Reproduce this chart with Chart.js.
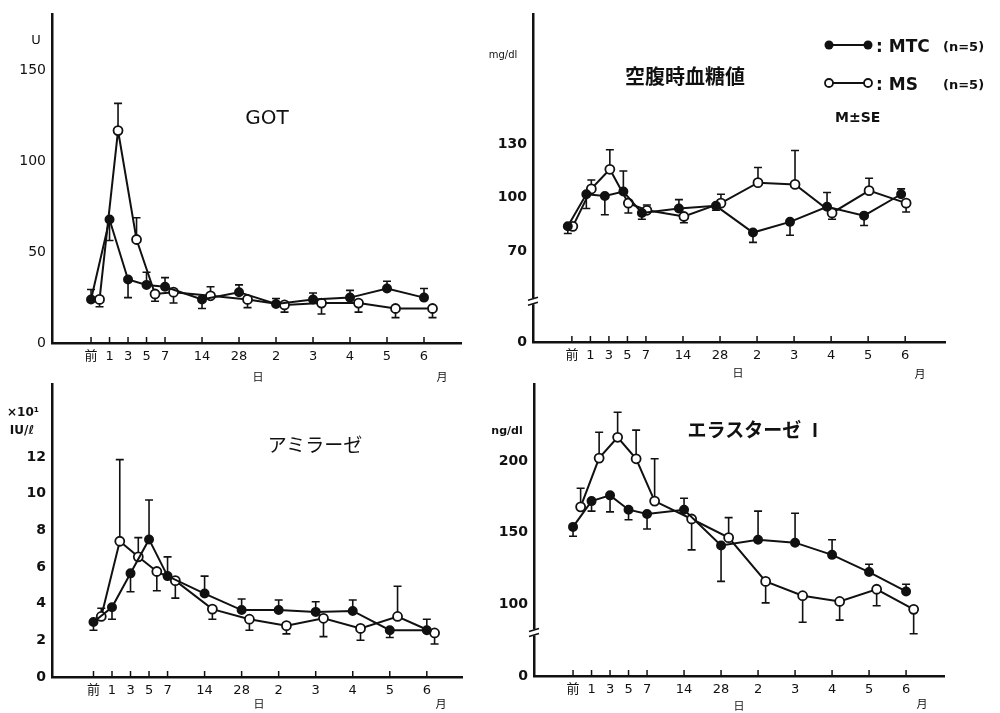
<!DOCTYPE html>
<html>
<head>
<meta charset="utf-8">
<script src="https://cdn.jsdelivr.net/npm/chart.js@4.4.0/dist/chart.umd.min.js"></script>
<style>
  body { margin: 0; background: #fff; width: 1000px; height: 713px; position: relative; overflow: hidden; color: #111; }
  .box { position: absolute; }
  .lbl { position: absolute; white-space: nowrap; line-height: 1; transform: translate(-50%, -50%); }
  .jp { font-family: "Noto Sans CJK JP", sans-serif; }
  .lat { font-family: "DejaVu Sans", sans-serif; }
</style>
</head>
<body>
<div class="box" style="left:0;top:0;width:470px;height:385px"><canvas id="got"></canvas></div>
<div class="box" style="left:470px;top:0;width:530px;height:385px"><canvas id="glu"></canvas></div>
<div class="box" style="left:0;top:370px;width:470px;height:343px"><canvas id="amy"></canvas></div>
<div class="box" style="left:470px;top:370px;width:530px;height:343px"><canvas id="ela"></canvas></div>

<!-- titles and units -->
<div class="lbl lat" style="left:267px;top:117px;font-size:20px">GOT</div>
<div class="lbl lat" style="left:36px;top:39px;font-size:13px">U</div>
<div class="lbl jp" style="left:685px;top:76px;font-size:20px;font-weight:700">空腹時血糖値</div>
<div class="lbl lat" style="left:503px;top:55px;font-size:10px">mg/dl</div>
<div class="lbl jp" style="left:315px;top:443px;font-size:19px">アミラーゼ</div>
<div class="lbl lat" style="left:23px;top:412px;font-size:12px;font-weight:700">×10¹</div>
<div class="lbl lat" style="left:22px;top:430px;font-size:12px;font-weight:700">IU/ℓ</div>
<div class="lbl jp" style="left:756px;top:428px;font-size:19px;font-weight:700">エラスターゼ Ⅰ</div>
<div class="lbl lat" style="left:507px;top:430px;font-size:11px;font-weight:700">ng/dl</div>

<!-- day / month markers -->
<div class="lbl jp" style="left:258px;top:376px;font-size:11px">日</div>
<div class="lbl jp" style="left:442px;top:376px;font-size:11px">月</div>
<div class="lbl jp" style="left:738px;top:372px;font-size:11px">日</div>
<div class="lbl jp" style="left:920px;top:373px;font-size:11px">月</div>
<div class="lbl jp" style="left:259px;top:703px;font-size:11px">日</div>
<div class="lbl jp" style="left:441px;top:703px;font-size:11px">月</div>
<div class="lbl jp" style="left:739px;top:705px;font-size:11px">日</div>
<div class="lbl jp" style="left:922px;top:703px;font-size:11px">月</div>

<!-- legend -->
<svg style="position:absolute;left:820px;top:35px" width="60" height="60">
  <line x1="9" y1="10" x2="48" y2="10" stroke="#111" stroke-width="2"/>
  <circle cx="9" cy="10" r="4.5" fill="#111"/>
  <circle cx="48" cy="10" r="4.5" fill="#111"/>
  <line x1="9" y1="48" x2="48" y2="48" stroke="#111" stroke-width="2"/>
  <circle cx="9" cy="48" r="4" fill="#fff" stroke="#111" stroke-width="1.8"/>
  <circle cx="48" cy="48" r="4" fill="#fff" stroke="#111" stroke-width="1.8"/>
</svg>
<div class="lat" style="position:absolute;left:876px;top:36px;font-size:17px;font-weight:700">: MTC</div>
<div class="lat" style="position:absolute;left:943px;top:39px;font-size:13px;font-weight:700">(n=5)</div>
<div class="lat" style="position:absolute;left:876px;top:74px;font-size:17px;font-weight:700">: MS</div>
<div class="lat" style="position:absolute;left:943px;top:77px;font-size:13px;font-weight:700">(n=5)</div>
<div class="lat" style="position:absolute;left:835px;top:109px;font-size:14px;font-weight:700">M±SE</div>

<script>
// time points: before, days 1..28, then months 2..6
const days = ["前", "1", "3", "5", "7", "14", "28", "2", "3", "4", "5", "6"];
const dayPos = [0, 1, 2, 3, 4, 6, 8, 10, 12, 14, 16, 18];

// GOT (U)
const gotMTC    = [24, 68, 35, 32, 31, 24, 28, 21.5, 24, 25, 30, 25];
const gotMTCbar = [29.5, 56.5, 25, 39, 36, 19, 32, 24.5, 27.5, 29, 34, 30];
const gotMS     = [24, 117, 57, 27, 28, 26, 24, 21, 22, 22, 19, 19];
const gotMSbar  = [20, 132, 69, 23, 22, 31, 19.5, 17, 16, 17, 14, 14];

// fasting blood glucose (mg/dl)
const gluMTC    = [84, 102, 101, 103.5, 91.5, 94, 95.5, 80.5, 86.5, 95, 90, 102];
const gluMTCbar = [80, 94, 90.5, 115, 88, 99, 93, 75, 79, 103, 84.5, 105];
const gluMS     = [84, 105, 116, 97, 93, 89.5, 97, 108.5, 107.5, 91.5, 104, 97];
const gluMSbar  = [null, 110, 127, 91.5, 96, 86, 102, 117, 126.5, 88, 111, 92];

// amylase (x10 IU/l)
const amyMTC    = [3.0, 3.8, 5.65, 7.5, 5.5, 4.55, 3.65, 3.65, 3.55, 3.6, 2.55, 2.55];
const amyMTCbar = [2.55, 3.15, 4.65, 9.65, 6.55, 5.5, 4.25, 4.2, 4.1, 4.2, 2.15, 3.15];
const amyMS     = [3.3, 7.4, 6.55, 5.75, 5.25, 3.7, 3.15, 2.8, 3.2, 2.65, 3.3, 2.4];
const amyMSbar  = [3.75, 11.85, 7.6, 4.7, 4.3, 3.15, 2.55, 2.35, 2.2, 2.0, 4.95, 1.8];

// elastase I (ng/dl)
const elaMTC    = [154, 172, 176, 166, 163, 166, 141, 145, 143, 134.5, 122.5, 109];
const elaMTCbar = [147.5, 165, 164.5, 159, 152.5, 174, 116, 165, 163.5, 145, 128, 114];
const elaMS     = [168, 202, 216.5, 201.5, 172, 159.5, 146.5, 116, 106, 102, 110.5, 96.5];
const elaMSbar  = [181, 220, 234, 221.5, 201.5, 138, 160.5, 101, 87.5, 89, 99, 79.5];

const INK = "#111";

const pts = (vals, off) => vals.map((v, i) => ({ x: dayPos[i] + off, y: v }));

// vertical SE bars with a cap at the end
const errBars = {
  id: "errBars",
  beforeDatasetsDraw(chart) {
    const { ctx, scales: { y } } = chart;
    ctx.save();
    ctx.strokeStyle = INK;
    ctx.lineWidth = 1.6;
    chart.data.datasets.forEach((ds, di) => {
      const meta = chart.getDatasetMeta(di);
      (ds.bars || []).forEach((b, i) => {
        if (b == null) return;
        const p = meta.data[i];
        const yb = y.getPixelForValue(b);
        ctx.beginPath();
        ctx.moveTo(p.x, p.y);
        ctx.lineTo(p.x, yb);
        ctx.moveTo(p.x - 4, yb);
        ctx.lineTo(p.x + 4, yb);
        ctx.stroke();
      });
    });
    ctx.restore();
  }
};

// small upward tick marks on x axis, and the axis break sign
const axisMarks = {
  id: "axisMarks",
  afterDraw(chart, args, opts) {
    const { ctx, chartArea: a, scales: { x, y } } = chart;
    ctx.save();
    ctx.strokeStyle = INK;
    ctx.lineWidth = 1.5;
    dayPos.forEach(p => {
      const px = x.getPixelForValue(p);
      ctx.beginPath();
      ctx.moveTo(px, a.bottom);
      ctx.lineTo(px, a.bottom - 6);
      ctx.stroke();
    });
    if (opts.brk != null) {
      const py = y.getPixelForValue(opts.brk);
      ctx.fillStyle = "#fff";
      ctx.fillRect(a.left - 4, py - 3, 8, 6);
      ctx.beginPath();
      ctx.moveTo(a.left - 5, py - 1);
      ctx.lineTo(a.left + 5, py - 4);
      ctx.moveTo(a.left - 5, py + 4);
      ctx.lineTo(a.left + 5, py + 1);
      ctx.stroke();
    }
    ctx.restore();
  }
};

function makeChart(id, c) {
  return new Chart(document.getElementById(id), {
    type: "line",
    data: {
      datasets: [
        {
          label: "MTC", data: pts(c.mtc, c.offM), bars: c.mtcBar,
          borderColor: INK, borderWidth: 2,
          pointBackgroundColor: INK, pointBorderColor: INK, pointRadius: 4
        },
        {
          label: "MS", data: pts(c.ms, c.offS), bars: c.msBar,
          borderColor: INK, borderWidth: 2,
          pointBackgroundColor: "#fff", pointBorderColor: INK, pointBorderWidth: 1.8, pointRadius: 4.5
        }
      ]
    },
    options: {
      responsive: true,
      maintainAspectRatio: false,
      animation: false,
      layout: { padding: c.pad },
      plugins: { legend: { display: false }, tooltip: { enabled: false }, axisMarks: { brk: c.brk } },
      scales: {
        x: {
          type: "linear", min: c.xMin, max: c.xMax,
          grid: { display: false, drawTicks: false },
          border: { color: INK, width: 2.5 },
          afterBuildTicks: s => { s.ticks = dayPos.map(v => ({ value: v })); },
          afterFit: s => { s.height = c.xH; },
          ticks: {
            autoSkip: false, maxRotation: 0, padding: 6, color: INK,
            font: { family: "DejaVu Sans, Noto Sans CJK JP", size: 13 },
            callback: v => days[dayPos.indexOf(v)]
          }
        },
        y: {
          min: c.yMin, max: c.yMax,
          grid: { display: false, drawTicks: false },
          border: { color: INK, width: 2.5 },
          afterBuildTicks: s => { s.ticks = c.yTicks.map(v => ({ value: v })); },
          afterFit: s => { s.width = c.yW; },
          ticks: {
            padding: 6, color: INK,
            font: { family: "DejaVu Sans", size: 14, weight: c.yBold ? "bold" : "normal" },
            callback: v => (v === c.yMin ? "0" : v)
          }
        }
      }
    },
    plugins: [errBars, axisMarks]
  });
}

makeChart("got", {
  mtc: gotMTC, mtcBar: gotMTCbar, ms: gotMS, msBar: gotMSbar, offM: 0, offS: 0.46,
  pad: { top: 8, right: 9, left: 0, bottom: 0 }, yW: 52, xH: 42,
  xMin: -2.11, xMax: 20.0, yMin: 0, yMax: 181, yTicks: [0, 50, 100, 150], yBold: false
});

makeChart("glu", {
  mtc: gluMTC, mtcBar: gluMTCbar, ms: gluMS, msBar: gluMSbar, offM: -0.22, offS: 0.05,
  pad: { top: 8, right: 55, left: 0, bottom: 0 }, yW: 63, xH: 43,
  xMin: -2.1, xMax: 20.15, yMin: 19.1, yMax: 202.9, yTicks: [19.1, 70, 100, 130], yBold: true, brk: 42
});

makeChart("amy", {
  mtc: amyMTC, mtcBar: amyMTCbar, ms: amyMS, msBar: amyMSbar, offM: 0, offS: 0.42,
  pad: { top: 12, right: 8, left: 0, bottom: 0 }, yW: 52, xH: 36,
  xMin: -2.24, xMax: 19.9, yMin: 0, yMax: 15.95, yTicks: [0, 2, 4, 6, 8, 10, 12], yBold: true
});

makeChart("ela", {
  mtc: elaMTC, mtcBar: elaMTCbar, ms: elaMS, msBar: elaMSbar, offM: 0, offS: 0.41,
  pad: { top: 5, right: 56, left: 0, bottom: 0 }, yW: 64, xH: 37,
  xMin: -2.11, xMax: 20.05, yMin: 50, yMax: 253.4, yTicks: [50, 100, 150, 200], yBold: true, brk: 80.4
});
</script>
</body>
</html>
